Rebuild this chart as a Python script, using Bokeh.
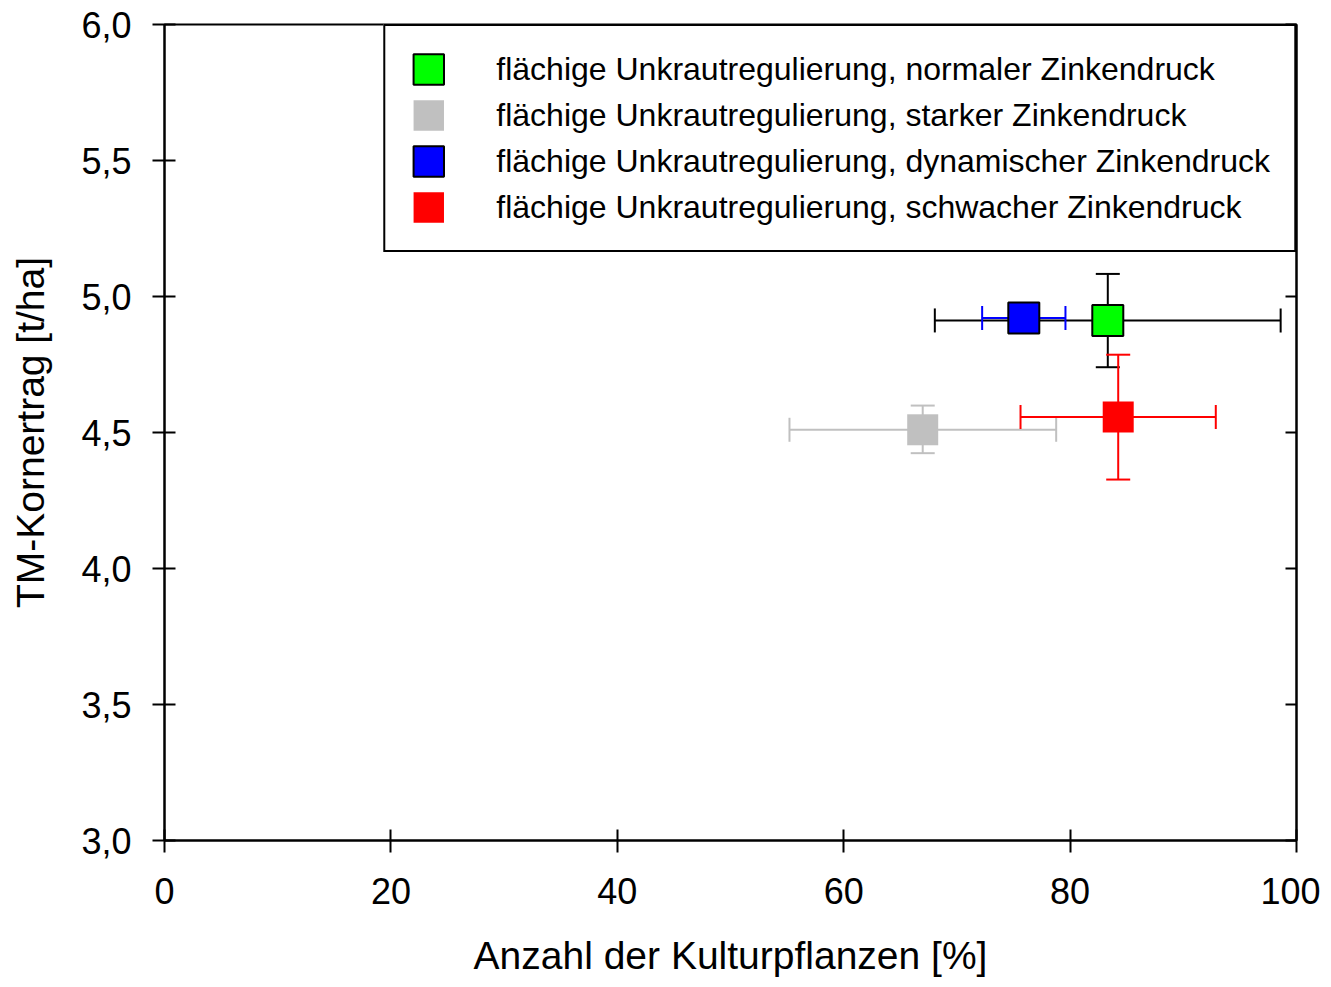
from bokeh.plotting import figure
from bokeh.models import (ColumnDataSource, Whisker, TeeHead, Range1d, LinearAxis,
                          FixedTicker, Legend, LegendItem)
from bokeh.embed import file_html
from bokeh.resources import INLINE

# ---- data ----
series = [
    "flächige Unkrautregulierung, normaler Zinkendruck",
    "flächige Unkrautregulierung, starker Zinkendruck",
    "flächige Unkrautregulierung, dynamischer Zinkendruck",
    "flächige Unkrautregulierung, schwacher Zinkendruck",
]
x_mean = [83.33, 66.98, 75.91, 84.25]
x_lower = [68.05, 55.21, 72.23, 75.62]
x_upper = [98.60, 78.77, 79.59, 92.87]
y_mean = [4.912, 4.510, 4.921, 4.557]
y_lower = [4.740, 4.424, None, 4.327]
y_upper = [5.083, 4.599, None, 4.786]

fill_colors = ["#00ff00", "#c0c0c0", "#0000ff", "#ff0000"]
outline_colors = ["black", None, "black", None]
err_colors = ["black", "#c0c0c0", "#0000ff", "#ff0000"]

x_ticks = [0, 20, 40, 60, 80, 100]
y_ticks = [3.0, 3.5, 4.0, 4.5, 5.0, 5.5, 6.0]
y_tick_labels = ["3,0", "3,5", "4,0", "4,5", "5,0", "5,5", "6,0"]

FONT = "Liberation Sans"

p = figure(width=1320, height=980, output_backend="svg", toolbar_location=None,
           x_range=Range1d(0, 100), y_range=Range1d(3, 6),
           min_border_left=164, min_border_right=24, min_border_top=24,
           min_border_bottom=140, x_axis_label="Anzahl der Kulturpflanzen [%]",
           y_axis_label="TM-Kornertrag [t/ha]")
p.grid.visible = False
p.outline_line_color = "black"
p.outline_line_width = 2
p.outline_line_alpha = 1.0
p.background_fill_color = "white"
p.border_fill_color = "white"

for ax in (p.xaxis[0], p.yaxis[0]):
    ax.axis_line_width = 2
    ax.major_tick_line_width = 2
    ax.major_tick_in = 11
    ax.major_tick_out = 12
    ax.minor_tick_line_color = None
    ax.major_label_text_font = FONT
    ax.major_label_text_font_size = "36px"
    ax.major_label_text_color = "black"
    ax.axis_label_text_font = FONT
    ax.axis_label_text_font_size = "39px"
    ax.axis_label_text_font_style = "normal"
    ax.axis_label_text_color = "black"

p.xaxis[0].ticker = FixedTicker(ticks=x_ticks)
p.xaxis[0].major_label_standoff = 25
p.xaxis[0].axis_label_standoff = 27
p.yaxis[0].ticker = FixedTicker(ticks=y_ticks)
p.yaxis[0].major_label_overrides = {t: l for t, l in zip(y_ticks, y_tick_labels)}
p.yaxis[0].major_label_standoff = 21
p.yaxis[0].axis_label_standoff = 26

right = LinearAxis(ticker=FixedTicker(ticks=y_ticks), major_tick_in=11, major_tick_out=0,
                   axis_line_width=2, major_tick_line_width=2, minor_tick_line_color=None,
                   major_label_text_font_size="0px", major_label_standoff=0)
right.major_label_overrides = {t: "" for t in y_ticks}
p.add_layout(right, "right")

items = []
for i in range(len(series)):
    if x_lower[i] is not None:
        src = ColumnDataSource(dict(base=[y_mean[i]], lower=[x_lower[i]], upper=[x_upper[i]]))
        w = Whisker(base="base", lower="lower", upper="upper", dimension="width", source=src,
                    line_color=err_colors[i], line_width=2, level="underlay",
                    upper_head=TeeHead(size=24, line_color=err_colors[i], line_width=2),
                    lower_head=TeeHead(size=24, line_color=err_colors[i], line_width=2))
        p.add_layout(w)
    if y_lower[i] is not None:
        src = ColumnDataSource(dict(base=[x_mean[i]], lower=[y_lower[i]], upper=[y_upper[i]]))
        w = Whisker(base="base", lower="lower", upper="upper", dimension="height", source=src,
                    line_color=err_colors[i], line_width=2, level="underlay",
                    upper_head=TeeHead(size=24, line_color=err_colors[i], line_width=2),
                    lower_head=TeeHead(size=24, line_color=err_colors[i], line_width=2))
        p.add_layout(w)

for i in range(len(series)):
    src = ColumnDataSource(dict(x=[x_mean[i]], y=[y_mean[i]]))
    r = p.rect("x", "y", width=31, height=31, width_units="screen", height_units="screen",
               source=src, fill_color=fill_colors[i],
               line_color=outline_colors[i], line_width=2)
    items.append(LegendItem(label=series[i], renderers=[r]))

legend = Legend(items=items, location="top_right", margin=0, padding=24, spacing=8,
                glyph_width=38, glyph_height=38, label_height=38, label_standoff=49,
                label_text_font=FONT, label_text_font_size="32px", label_text_color="black",
                border_line_color="black", border_line_width=2, border_line_alpha=1.0,
                background_fill_color="white", background_fill_alpha=1.0)
p.add_layout(legend, "center")

open("out.html", "w").write(file_html(p, INLINE))
